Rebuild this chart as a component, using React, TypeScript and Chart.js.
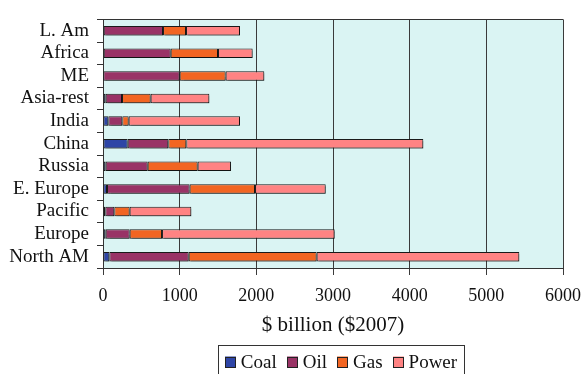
import React, { useEffect, useRef } from "react";
import { Chart, registerables } from "chart.js";

Chart.register(...registerables);

const categories = ["L. Am", "Africa", "ME", "Asia-rest", "India", "China", "Russia", "E. Europe", "Pacific", "Europe", "North AM"];
const coal = [10, 10, 5, 35, 70, 322, 35, 52, 30, 35, 83];
const oil = [773, 873, 995, 213, 182, 530, 548, 1078, 118, 313, 1035];
const gas = [300, 617, 600, 374, 83, 235, 652, 853, 200, 422, 1669];
const power = [704, 452, 504, 765, 1452, 3091, 435, 922, 804, 2252, 2643];
const seriesNames = ["Coal", "Oil", "Gas", "Power"];
const seriesColors = ["#2E45A6", "#993366", "#F26522", "#FF8383"];
const xTicks = [0, 1000, 2000, 3000, 4000, 5000, 6000];

const FONT = "'Liberation Serif', 'Times New Roman', serif";

const bgPlugin = {
  id: "plotBg",
  beforeDraw(chart: any) {
    const { ctx, chartArea } = chart;
    ctx.save();
    ctx.fillStyle = "#DAF4F3";
    ctx.fillRect(chartArea.left, chartArea.top, chartArea.right - chartArea.left, chartArea.bottom - chartArea.top);
    ctx.restore();
  },
  beforeDatasetsDraw(chart: any) {
    const ctx = chart.ctx;
    ctx.save();
    ctx.shadowColor = "rgba(0,0,0,0.3)";
    ctx.shadowOffsetX = 2;
    ctx.shadowOffsetY = 2;
    ctx.shadowBlur = 1;
  },
  afterDatasetsDraw(chart: any) {
    chart.ctx.restore();
  },
  afterDraw(chart: any) {
    const { ctx, chartArea } = chart;
    ctx.save();
    ctx.strokeStyle = "#333";
    ctx.lineWidth = 1;
    ctx.beginPath();
    ctx.moveTo(chartArea.left, Math.round(chartArea.top) + 0.5);
    ctx.lineTo(chartArea.right, Math.round(chartArea.top) + 0.5);
    ctx.stroke();
    // legend
    ctx.font = `19px ${FONT}`;
    ctx.textBaseline = "middle";
    const box = 11;
    const gapBoxText = 5;
    const gapItems = 10;
    const items = chart.data.datasets.map((d: any) => ({ label: d.label, color: d.backgroundColor, w: ctx.measureText(d.label).width }));
    let total = 0;
    items.forEach((it: any, i: number) => {
      total += box + gapBoxText + it.w + (i < items.length - 1 ? gapItems : 0);
    });
    const cx = 341;
    const cy = 362;
    let x = cx - total / 2;
    const padX = 7;
    ctx.strokeStyle = "#333";
    ctx.strokeRect(Math.round(x - padX) + 0.5, 345.5, Math.round(total + padX * 2), 40);
    items.forEach((it: any) => {
      ctx.fillStyle = it.color;
      ctx.fillRect(Math.round(x), cy - box / 2, box, box);
      ctx.strokeStyle = "#222";
      ctx.strokeRect(Math.round(x) + 0.5, Math.round(cy - box / 2) + 0.5, box - 1, box - 1);
      ctx.fillStyle = "#111";
      ctx.fillText(it.label, x + box + gapBoxText, cy + 1);
      x += box + gapBoxText + it.w + gapItems;
    });
    ctx.restore();
  },
};

export default function App() {
  const ref = useRef<HTMLCanvasElement>(null);
  useEffect(() => {
    document.body.style.margin = "0";
    const values = [coal, oil, gas, power];
    const chart = new Chart(ref.current!, {
      type: "bar",
      data: {
        labels: categories,
        datasets: seriesNames.map((name, i) => ({
          label: name,
          data: values[i],
          backgroundColor: seriesColors[i],
          borderColor: "#1a1a1a",
          borderWidth: 1,
          borderSkipped: false,
          categoryPercentage: 1,
          barPercentage: 0.42,
        })),
      },
      options: {
        indexAxis: "y",
        responsive: false,
        animation: false,
        layout: { padding: { top: 13, right: 21, left: 0, bottom: 36 } },
        plugins: { legend: { display: false }, tooltip: { enabled: false } },
        scales: {
          x: {
            stacked: true,
            min: 0,
            max: 6000,
            afterBuildTicks(scale: any) {
              scale.ticks = xTicks.map((v) => ({ value: v }));
            },
            afterFit(scale: any) {
              scale.height = 70;
              scale.paddingRight = 0;
              scale.paddingLeft = 0;
            },
            grid: { color: "#3a3a3a", lineWidth: 1, tickLength: 7, drawTicks: true },
            border: { color: "#333", width: 1 },
            ticks: {
              color: "#111",
              font: { family: FONT, size: 18 },
              padding: 10,
              callback: (v: any) => String(v),
            },
            title: {
              display: true,
              text: "$ billion ($2007)",
              color: "#111",
              font: { family: FONT, size: 21 },
              padding: { top: 0, bottom: 0 },
            },
          },
          y: {
            stacked: true,
            afterFit(scale: any) {
              scale.width = 103;
            },
            grid: { drawOnChartArea: false, color: "#333", tickLength: 6, offset: true },
            border: { color: "#333", width: 1 },
            ticks: { color: "#111", font: { family: FONT, size: 19 }, padding: 8, autoSkip: false },
          },
        },
      },
      plugins: [bgPlugin],
    });
    return () => chart.destroy();
  }, []);
  return (
    <div style={{ position: "absolute", left: 0, top: 0, width: 584, height: 374 }}>
      <canvas ref={ref} width={584} height={374} />
    </div>
  );
}
